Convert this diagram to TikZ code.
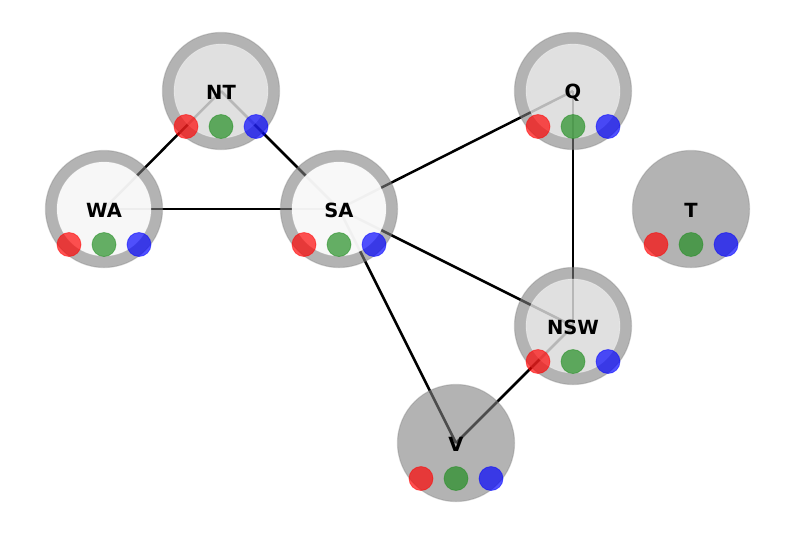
\documentclass[tikz,border=0pt]{standalone}
\usepackage{fontspec}
\setmainfont{DejaVu Sans}
\definecolor{dotgreen}{RGB}{30,140,30}
\begin{document}
\begin{tikzpicture}[x=1pt,y=-1pt,
  edge/.style={draw=black,line width=2.5pt},
  outer/.style={circle,minimum size=117pt,inner sep=0pt,fill=gray,fill opacity=0.6,draw=gray,draw opacity=0.35,line width=1.2pt},
  inner/.style={circle,minimum size=94pt,inner sep=0pt,fill=white,draw=white,draw opacity=0.3,line width=0.8pt},
  lab/.style={font=\bfseries\fontsize{19.5}{22}\selectfont,text=black,inner sep=0pt},
  dot/.style={circle,minimum size=24pt,inner sep=0pt,fill=#1,fill opacity=0.68,draw=#1,draw opacity=0.5,line width=0.8pt}
]
\useasboundingbox (0,0) rectangle (794,536);
\coordinate (NT) at (221,91);
\coordinate (WA) at (104,209);
\coordinate (SA) at (339,209);
\coordinate (Q) at (573,91);
\coordinate (T) at (691,209);
\coordinate (NSW) at (573,326);
\coordinate (V) at (456,443);
\draw[edge] (WA) -- (NT);
\draw[edge] (WA) -- (SA);
\draw[edge] (NT) -- (SA);
\draw[edge] (SA) -- (Q);
\draw[edge] (SA) -- (NSW);
\draw[edge] (SA) -- (V);
\draw[edge] (Q) -- (NSW);
\draw[edge] (NSW) -- (V);
\foreach \n/\op in {NT/0.6,WA/0.9,SA/0.92,Q/0.6,T/0,NSW/0.6,V/0}{
  \node[outer] (\n-outer) at (\n) {};
  \ifdim\op pt>0pt
    \node[inner,fill opacity=\op] (\n-inner) at (\n) {};
  \fi
  \node[lab] (\n-label) at ([yshift=-1.5pt]\n) {\n};
  \node[dot=red] (\n-r) at ([xshift=-35pt,yshift=-35.5pt]\n) {};
  \node[dot=dotgreen] (\n-g) at ([yshift=-35.5pt]\n) {};
  \node[dot=blue] (\n-b) at ([xshift=35pt,yshift=-35.5pt]\n) {};
}
\end{tikzpicture}
\end{document}
